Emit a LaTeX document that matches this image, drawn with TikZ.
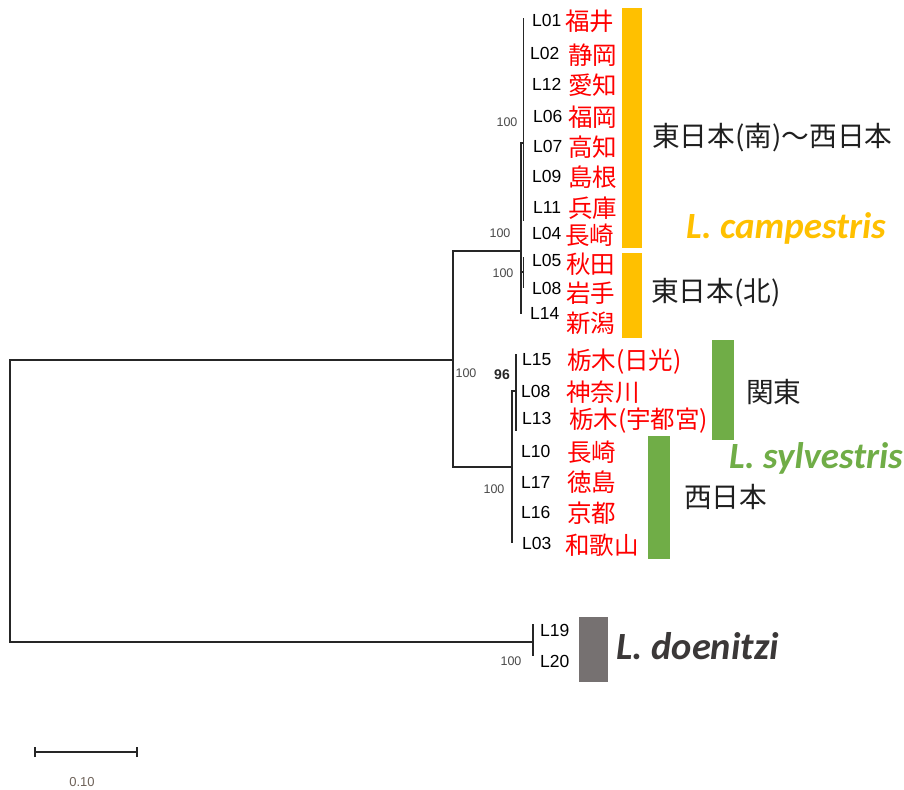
\documentclass[tikz,border=0pt]{standalone}
\usepackage{fontspec}
\setmainfont{Liberation Sans}
\newfontfamily\jpfont{Noto Sans CJK JP}
\newfontfamily\spfont{Carlito}
\definecolor{treeline}{HTML}{262626}
\definecolor{cityred}{HTML}{FF0000}
\definecolor{campcol}{HTML}{FFC000}
\definecolor{sylvcol}{HTML}{70AD47}
\definecolor{doecol}{HTML}{767171}
\definecolor{doetext}{HTML}{3B3838}
\definecolor{bootgray}{HTML}{4A4A4A}
\definecolor{scalecol}{HTML}{6E6259}
\begin{document}
\begin{tikzpicture}[x=1pt,y=-1pt,
  tree/.style={draw=treeline, line width=1.8pt, line cap=rect},
  leaf/.style={anchor=west, inner sep=0pt, font=\fontsize{17.5}{17.5}\selectfont, text=black},
  city/.style={anchor=west, inner sep=0pt, font=\jpfont\fontsize{24.5}{24.5}\selectfont, text=cityred},
  region/.style={anchor=west, inner sep=0pt, font=\jpfont\fontsize{27.7}{27.7}\selectfont, text=black!88},
  boot/.style={inner sep=0pt, font=\fontsize{12.5}{12.5}\selectfont, text=bootgray},
  species/.style={anchor=base west, inner sep=0pt, font=\spfont\bfseries\itshape\fontsize{37}{37}\selectfont}]
\useasboundingbox (0,0) rectangle (904,789);
\fill[white] (0,0) rectangle (904,789);

% ---- tree coordinates ----
\coordinate (rt) at (10,360);
\coordinate (rb) at (10,642);
\coordinate (n1) at (453,360);
\coordinate (n1t) at (453,251);
\coordinate (n1b) at (453,467);
\coordinate (cp) at (521,251);
\coordinate (cpt) at (521,143);
\coordinate (cpb) at (521,313);
\coordinate (cpn) at (521,272);
\coordinate (so) at (523.5,143);
\coordinate (sot) at (523.5,19);
\coordinate (sob) at (523.5,220);
\coordinate (no) at (523.5,272);
\coordinate (not) at (523.5,258);
\coordinate (nob) at (523.5,287);
\coordinate (sy) at (512,467);
\coordinate (syt) at (512,391);
\coordinate (syb) at (512,542);
\coordinate (ka) at (516,391);
\coordinate (kat) at (516,355);
\coordinate (kab) at (516,430);
\coordinate (dn) at (533,642);
\coordinate (dnt) at (533,625);
\coordinate (dnb) at (533,655);

\draw[tree] (rt) -- (rb);
\draw[tree] (rt) -- (n1);
\draw[tree] (rb) -- (dn);
\draw[tree] (n1t) -- (n1b);
\draw[tree] (n1t) -- (cp);
\draw[tree] (n1b) -- (sy);
\draw[tree] (cpt) -- (cpb);
\draw[tree] (cpt) -- (so);
\draw[tree] (cpn) -- (no);
\draw[tree] (sot) -- (sob);
\draw[tree] (not) -- (nob);
\draw[tree] (syt) -- (syb);
\draw[tree] (syt) -- (ka);
\draw[tree] (kat) -- (kab);
\draw[tree] (dnt) -- (dnb);

% ---- bootstrap values ----
\node[boot] (b1) at (507,122) {100};
\node[boot] (b2) at (500,233) {100};
\node[boot] (b3) at (503,273) {100};
\node[boot] (b4) at (466,373) {100};
\node[boot, font=\bfseries\fontsize{14}{14}\selectfont, text=black!85] (b5) at (502,375) {96};
\node[boot] (b6) at (494,489) {100};
\node[boot] (b7) at (511,661) {100};

% ---- bars ----
\fill[campcol] (622,8) rectangle (642,248);
\fill[campcol] (622,253) rectangle (642,338);
\fill[sylvcol] (712,340) rectangle (734,440);
\fill[sylvcol] (648,436) rectangle (670,559);
\fill[doecol] (579,617) rectangle (608,682);

% ---- leaves: L. campestris ----
\node[leaf] (L01) at (532,20) {L01};
\node[leaf] (L02) at (530,53) {L02};
\node[leaf] (L12) at (532,84) {L12};
\node[leaf] (L06) at (533,116) {L06};
\node[leaf] (L07) at (533,146) {L07};
\node[leaf] (L09) at (532,176) {L09};
\node[leaf] (L11) at (533,207) {L11};
\node[leaf] (L04) at (532,233) {L04};
\node[leaf] (L05) at (532,260) {L05};
\node[leaf] (L08a) at (532,288) {L08};
\node[leaf] (L14) at (530,313) {L14};

\node[city] (c01) at (565,21) {福井};
\node[city] (c02) at (568,55) {静岡};
\node[city] (c12) at (568,85) {愛知};
\node[city] (c06) at (568,117) {福岡};
\node[city] (c07) at (568,147) {高知};
\node[city] (c09) at (568,177) {島根};
\node[city] (c11) at (568,208) {兵庫};
\node[city] (c04) at (565,235) {長崎};
\node[city] (c05) at (566,264) {秋田};
\node[city] (c08) at (566,293) {岩手};
\node[city] (c14) at (566,323) {新潟};

% ---- leaves: L. sylvestris ----
\node[leaf] (L15) at (522,360) {L15};
\node[leaf] (L08b) at (521,391) {L08};
\node[leaf] (L13) at (522,418) {L13};
\node[leaf] (L10) at (521,451) {L10};
\node[leaf] (L17) at (521,482) {L17};
\node[leaf] (L16) at (521,512) {L16};
\node[leaf] (L03) at (522,543) {L03};

\node[city] (c15) at (567,362) {栃木(日光)};
\node[city] (c08b) at (566,392) {神奈川};
\node[city] (c13) at (569,421) {栃木(宇都宮)};
\node[city] (c10) at (567,452) {長崎};
\node[city] (c17) at (567,482) {徳島};
\node[city] (c16) at (567,513) {京都};
\node[city] (c03) at (565,545) {和歌山};

% ---- leaves: L. doenitzi ----
\node[leaf] (L19) at (540,630) {L19};
\node[leaf] (L20) at (540,661) {L20};

% ---- region labels ----
\node[region] (r1) at (652,138) {東日本(南)～西日本};
\node[region] (r2) at (651,293) {東日本(北)};
\node[region] (r3) at (746,392) {関東};
\node[region] (r4) at (684,497) {西日本};

% ---- species ----
\node[species, text=campcol] (s1) at (686,238) {L. campestris};
\node[species, text=sylvcol] (s2) at (729,468) {L. sylvestris};
\node[species, text=doetext, font=\spfont\bfseries\itshape\fontsize{38.5}{38.5}\selectfont] (s3) at (616,659) {L. doenitzi};

% ---- scale bar ----
\coordinate (sa) at (35,752);
\coordinate (sb) at (137,752);
\draw[draw=treeline, line width=1.8pt] (sa) -- (sb);
\draw[draw=treeline, line width=1.8pt] ([yshift=-5pt]sa) -- ([yshift=5pt]sa);
\draw[draw=treeline, line width=1.8pt] ([yshift=-5pt]sb) -- ([yshift=5pt]sb);
\node[inner sep=0pt, font=\fontsize{13}{13}\selectfont, text=scalecol] (sl) at (82,782) {0.10};
\end{tikzpicture}
\end{document}
